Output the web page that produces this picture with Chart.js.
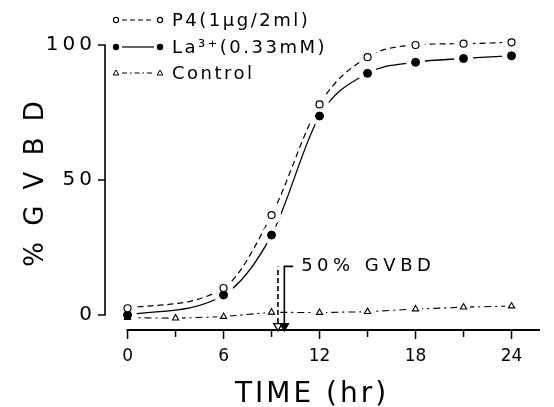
<!DOCTYPE html>
<html><head><meta charset="utf-8">
<script src="https://cdn.jsdelivr.net/npm/chart.js@4.4.1/dist/chart.umd.min.js"></script>
<style>html,body{margin:0;padding:0;background:#fff}#wrap{width:554px;height:407px;position:relative}</style>
</head><body><div id="wrap"><canvas id="c"></canvas></div>
<script>
// ---- data ----
const hoursCircles = [0, 6, 9, 12, 15, 18, 21, 24];
const p4Values = [2.5, 10, 37, 78, 95.5, 100, 100.5, 101];
const laValues = [0, 7.4, 29.6, 73.7, 89.5, 93.6, 95, 96];
const controlHours = [0, 3, 6, 9, 12, 15, 18, 21, 24];
const controlValues = [-1, -1.2, -0.6, 1, 0.9, 1.2, 2.2, 2.9, 3.3];
const gvbdTimes = [9.4, 9.8];           // 50% GVBD times (P4, La3+)
const xTicks = [0, 6, 12, 18, 24];
const xMinorTicks = [3, 9, 15, 21];
const yTicks = [0, 50, 100];
const legendLabels = ['P4(1µg/2ml)', 'La³⁺(0.33mM)', 'Control'];
const xTitle = 'TIME (hr)';
const yTitle = '% G V B D';
const annotationText = '50% GVBD';

const pts = (xs, ys) => xs.map((x, i) => ({x: x, y: ys[i]}));
const FONT = "'DejaVu Sans', sans-serif";

const halo = (xs, ys, r) => ({data: pts(xs, ys), showLine: false, pointRadius: r, pointBackgroundColor: '#fff',
  pointBorderWidth: 0, pointBorderColor: '#fff', borderColor: '#fff', clip: false});

const datasets = [
  // markers (top)
  {data: pts(hoursCircles, p4Values), showLine: false, pointRadius: 3.5, pointStyle: 'circle', clip: false,
    pointBackgroundColor: '#fff', pointBorderColor: '#000', pointBorderWidth: 1.2, borderColor: '#000'},
  {data: pts(hoursCircles, laValues), showLine: false, pointRadius: 4, pointStyle: 'circle', clip: false,
    pointBackgroundColor: '#000', pointBorderColor: '#000', pointBorderWidth: 1, borderColor: '#000'},
  {data: pts(controlHours, controlValues), showLine: false, pointRadius: 3.6, pointStyle: 'triangle', clip: false,
    pointBackgroundColor: '#fff', pointBorderColor: '#000', pointBorderWidth: 1.1, borderColor: '#000'},
  // 50% GVBD markers and arrows
  {data: [{x: gvbdTimes[0], y: -4.1}, {x: gvbdTimes[1], y: -4.1}], showLine: false, pointStyle: 'triangle', clip: false,
    rotation: 180, pointRadius: 4.8, pointBackgroundColor: ['#fff', '#000'], pointBorderColor: '#000', pointBorderWidth: 1.3, borderColor: '#000'},
  {data: [{x: gvbdTimes[0], y: -3}, {x: gvbdTimes[0], y: 18}], borderColor: '#000', borderWidth: 1.6, borderDash: [5, 3],
    pointRadius: 0, clip: false},
  {data: [{x: gvbdTimes[1] + 0.55, y: 18}, {x: gvbdTimes[1], y: 18}, {x: gvbdTimes[1], y: -3}], borderColor: '#000', borderWidth: 1.6,
    pointRadius: 0, clip: false},
  // white halos (gaps around markers)
  halo(hoursCircles, p4Values, 9.5),
  halo(hoursCircles, laValues, 9.5),
  halo(controlHours, controlValues, 6.5),
  // lines (bottom)
  {data: pts(hoursCircles, p4Values), borderColor: '#000', borderWidth: 1.2, borderDash: [6, 4], pointRadius: 0,
    cubicInterpolationMode: 'monotone', clip: false},
  {data: pts(hoursCircles, laValues), borderColor: '#000', borderWidth: 1.3, pointRadius: 0,
    cubicInterpolationMode: 'monotone', clip: false},
  {data: pts(controlHours, controlValues), borderColor: '#000', borderWidth: 1.1, borderDash: [7, 4, 2, 4], pointRadius: 0,
    tension: 0, clip: false}
];

function spacedText(ctx, txt, x, y, spacing, align) {
  ctx.letterSpacing = spacing + 'px';
  ctx.textAlign = align || 'left';
  ctx.fillText(txt, x, y);
  ctx.letterSpacing = '0px';
}

const deco = {
  id: 'deco',
  beforeDraw(chart) {
    chart.ctx.letterSpacing = '0px';
    const ys = chart.scales.y;
    if (!ys._lsPatched) {
      const orig = ys.drawLabels;
      ys.drawLabels = function (ca) {
        const c = this.ctx; c.save(); c.letterSpacing = '4px'; orig.call(this, ca); c.restore();
      };
      ys._lsPatched = true;
    }
  },
  afterDraw(chart) {
    const ctx = chart.ctx, x = chart.scales.x, y = chart.scales.y, a = chart.chartArea;
    ctx.save();
    ctx.strokeStyle = '#000'; ctx.fillStyle = '#000'; ctx.setLineDash([]);
    // y axis
    ctx.lineWidth = 1.6;
    ctx.beginPath();
    ctx.moveTo(a.left, y.getPixelForValue(yTicks[yTicks.length - 1]));
    ctx.lineTo(a.left, y.getPixelForValue(yTicks[0]));
    yTicks.forEach(v => { const py = y.getPixelForValue(v); ctx.moveTo(a.left + 0.8, py); ctx.lineTo(a.left - 7, py); });
    ctx.stroke();
    // x axis
    ctx.lineWidth = 2;
    ctx.beginPath();
    ctx.moveTo(x.getPixelForValue(xTicks[0]) - 1, a.bottom);
    ctx.lineTo(a.right, a.bottom);
    ctx.stroke();
    ctx.lineWidth = 1.5;
    ctx.beginPath();
    xTicks.forEach(v => { const px = x.getPixelForValue(v); ctx.moveTo(px, a.bottom); ctx.lineTo(px, a.bottom + 9); });
    xMinorTicks.forEach(v => { const px = x.getPixelForValue(v); ctx.moveTo(px, a.bottom); ctx.lineTo(px, a.bottom + 7); });
    ctx.stroke();

    // titles
    ctx.textBaseline = 'alphabetic';
    ctx.font = '28px ' + FONT;
    spacedText(ctx, xTitle, 312, 402, 3, 'center');
    ctx.save();
    ctx.translate(36, 182);
    ctx.rotate(-Math.PI / 2);
    ctx.font = '26px ' + FONT;
    ctx.textBaseline = 'middle';
    spacedText(ctx, yTitle, 0, 0, 4, 'center');
    ctx.restore();

    // annotation
    ctx.font = '18px ' + FONT;
    ctx.textBaseline = 'middle';
    spacedText(ctx, annotationText, x.getPixelForValue(10.85), y.getPixelForValue(18), 4.5, 'left');

    // legend
    const rows = [20, 47, 73];
    const mx1 = 116, mx2 = 160, tx = 172;
    ctx.font = '18px ' + FONT;
    ctx.textBaseline = 'middle';
    rows.forEach((ry, i) => {
      ctx.lineWidth = 1.2;
      ctx.setLineDash(i === 0 ? [5, 3] : (i === 2 ? [5, 3, 1.5, 3] : []));
      ctx.beginPath(); ctx.moveTo(mx1 + 6, ry); ctx.lineTo(mx2 - 6, ry); ctx.stroke();
      ctx.setLineDash([]);
      [mx1, mx2].forEach(mx => {
        ctx.beginPath();
        if (i === 0) { ctx.arc(mx, ry, 2.6, 0, Math.PI * 2); ctx.fillStyle = '#fff'; ctx.fill(); ctx.lineWidth = 1.1; ctx.stroke(); }
        else if (i === 1) { ctx.arc(mx, ry, 3.2, 0, Math.PI * 2); ctx.fillStyle = '#000'; ctx.fill(); }
        else { ctx.moveTo(mx, ry - 3); ctx.lineTo(mx + 2.8, ry + 2); ctx.lineTo(mx - 2.8, ry + 2); ctx.closePath();
               ctx.fillStyle = '#fff'; ctx.fill(); ctx.lineWidth = 1; ctx.stroke(); }
      });
      ctx.fillStyle = '#000';
      spacedText(ctx, legendLabels[i], tx, ry + 1, 2.5, 'left');
    });
    ctx.restore();
  }
};

new Chart(document.getElementById('c'), {
  type: 'line',
  data: {datasets: datasets},
  options: {
    responsive: true, maintainAspectRatio: false, animation: false,
    layout: {padding: {top: 45, right: 14, left: 0, bottom: 0}},
    plugins: {legend: {display: false}, tooltip: {enabled: false}},
    elements: {line: {borderCapStyle: 'butt'}},
    scales: {
      x: {
        type: 'linear', min: -1.41, max: 25.78,
        grid: {display: false, drawTicks: false}, border: {display: false},
        afterBuildTicks: s => { s.ticks = xTicks.map(v => ({value: v})); },
        afterFit: s => { s.height = 77; },
        ticks: {color: '#000', padding: 16, maxRotation: 0, autoSkip: false, font: {family: FONT, size: 17}}
      },
      y: {
        type: 'linear', min: -5.56, max: 100,
        grid: {display: false, drawTicks: false}, border: {display: false},
        afterBuildTicks: s => { s.ticks = yTicks.map(v => ({value: v})); },
        afterFit: s => { s.width = 105; },
        ticks: {color: '#000', padding: 9, font: {family: FONT, size: 20}}
      }
    }
  },
  plugins: [deco]
});
</script>
</body></html>
